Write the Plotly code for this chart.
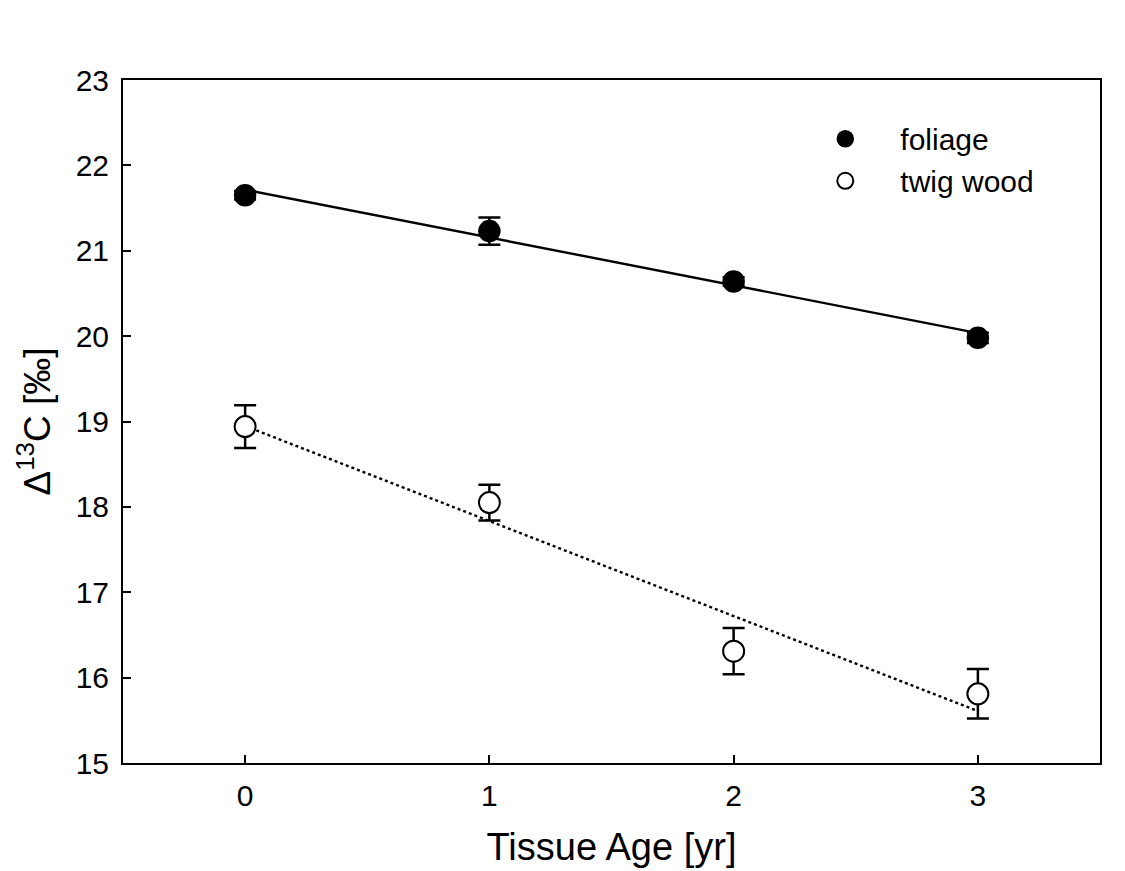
import numpy as np
import plotly.graph_objects as go

age = [0, 1, 2, 3]
foliage = [21.65, 21.23, 20.64, 19.98]
foliage_err = [0.05, 0.16, 0.05, 0.06]
twig = [18.94, 18.05, 16.31, 15.81]
twig_err = [0.25, 0.21, 0.27, 0.29]

x_ticks = [0, 1, 2, 3]
y_ticks = [15, 16, 17, 18, 19, 20, 21, 22, 23]

FONT = "Liberation Sans, Arial, sans-serif"

fx = np.array([0.0, 3.0])
pf = np.polyfit(age, foliage, 1)
pt = np.polyfit(age, twig, 1)

fig = go.Figure()
fig.add_trace(go.Scatter(x=fx, y=np.polyval(pf, fx), mode="lines",
                         line=dict(color="black", width=2.4), showlegend=False,
                         hoverinfo="skip"))
fig.add_trace(go.Scatter(x=fx, y=np.polyval(pt, fx), mode="lines",
                         line=dict(color="black", width=2.4, dash="dot"),
                         showlegend=False, hoverinfo="skip"))
fig.add_trace(go.Scatter(
    x=age, y=foliage, mode="markers", name="foliage",
    marker=dict(symbol="circle", size=21, color="black",
                line=dict(color="black", width=1.5)),
    error_y=dict(type="data", array=foliage_err, visible=True,
                 color="black", thickness=2.5, width=11)))
fig.add_trace(go.Scatter(
    x=age, y=twig, mode="markers", name="twig wood",
    marker=dict(symbol="circle", size=21, color="white",
                line=dict(color="black", width=2)),
    error_y=dict(type="data", array=twig_err, visible=True,
                 color="black", thickness=2.5, width=11)))

axis_common = dict(
    showline=True, linecolor="black", linewidth=2, mirror=True,
    ticks="inside", ticklen=8, tickwidth=2, tickcolor="black",
    showgrid=False, zeroline=False,
    tickfont=dict(family=FONT, size=30, color="black"),
)

fig.update_layout(
    width=1125, height=871,
    margin=dict(l=115, r=33, t=72, b=116),
    paper_bgcolor="white", plot_bgcolor="white",
    font=dict(family=FONT, color="black"),
    xaxis=dict(range=[-0.5, 3.5], tickvals=x_ticks, ticklabelstandoff=5,
               title=dict(text="Tissue Age [yr]", font=dict(family=FONT, size=38),
                          standoff=22),
               **axis_common),
    yaxis=dict(range=[15, 23], tickvals=y_ticks, ticklabelstandoff=6,
               title=dict(text="Δ<sup>13</sup>C [‰]", font=dict(family=FONT, size=37),
                          standoff=14),
               **axis_common),
    legend=dict(x=0.683, y=0.952, xanchor="left", yanchor="top",
                font=dict(family=FONT, size=30, color="black"),
                bgcolor="rgba(0,0,0,0)", itemwidth=100, tracegroupgap=0),
    showlegend=True,
)

fig.write_html("out.html")
